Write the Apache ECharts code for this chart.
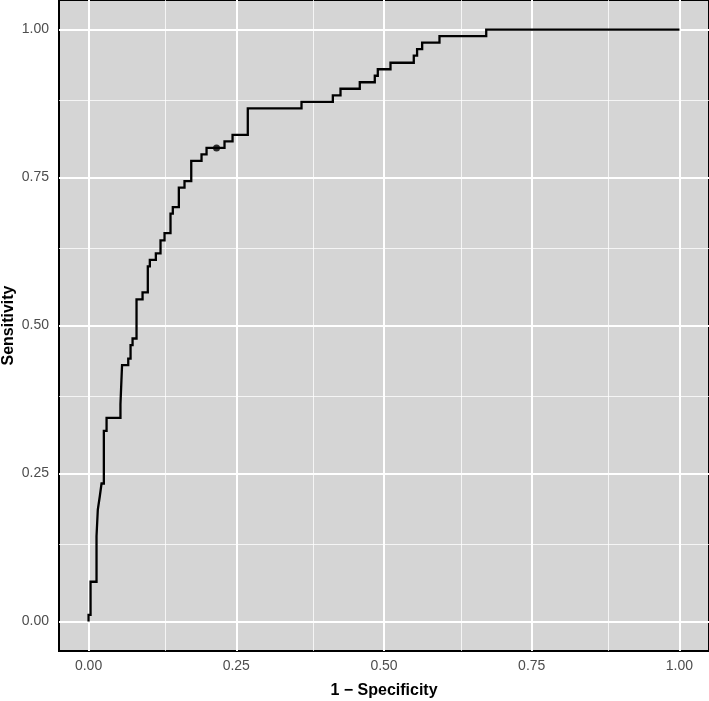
<!DOCTYPE html>
<html><head><meta charset="utf-8">
<script src="https://cdn.jsdelivr.net/npm/echarts@6/dist/echarts.min.js"></script>
<style>html,body{margin:0;padding:0;background:#fff}#c{width:709px;height:701px}</style>
</head><body><div id="c"></div>
<script>
// ROC curve vertices (1 - specificity, sensitivity); each step runs across then up
const fpr = [0, 0, 0.0034, 0.0135, 0.0157, 0.019, 0.022, 0.0259, 0.0305, 0.054,
  0.0567, 0.0672, 0.0711, 0.0745, 0.0812, 0.0914, 0.1003, 0.1037, 0.1139, 0.1218,
  0.1286, 0.1387, 0.1426, 0.1528, 0.1624, 0.1738, 0.1912, 0.1997, 0.2301, 0.2437,
  0.2695, 0.3604, 0.4134, 0.4264, 0.459, 0.4844, 0.4895, 0.511, 0.5504, 0.556,
  0.5646, 0.5939, 0.673, 1.0];
const tpr = [0, 0.011, 0.067, 0.144, 0.189, 0.211, 0.233, 0.322, 0.344, 0.367,
  0.433, 0.444, 0.467, 0.478, 0.544, 0.556, 0.6, 0.611, 0.622, 0.644,
  0.656, 0.689, 0.7, 0.733, 0.744, 0.778, 0.789, 0.8, 0.811, 0.822,
  0.867, 0.878, 0.889, 0.9, 0.911, 0.922, 0.933, 0.944, 0.956, 0.967,
  0.978, 0.989, 1.0, 1.0];
// highlighted threshold point
const bestFpr = [0.2166];
const bestTpr = [0.8];
// axis ticks
const majorTicks = [0, 0.25, 0.5, 0.75, 1.0];
const minorTicks = [0.125, 0.375, 0.625, 0.875];
const xTitle = '1 \u2212 Specificity';
const yTitle = 'Sensitivity';

// build staircase vertices: horizontal to next x, then vertical to next y
const stairs = [];
for (let i = 0; i < fpr.length; i++) {
  if (i > 0) stairs.push([fpr[i], tpr[i - 1]]);
  stairs.push([fpr[i], tpr[i]]);
}

const chart = echarts.init(document.getElementById('c'), null, {renderer: 'canvas'});
const font = '"Liberation Sans", Arial, sans-serif';
const lbl = {color: '#4d4d4d', fontSize: 14, fontFamily: font, formatter: v => Number(v).toFixed(2)};
function gridLines(dim) {
  const d = [];
  minorTicks.forEach(v => d.push({[dim]: v, lineStyle: {color: '#ffffff', width: 1, type: 'solid', opacity: 0.75}}));
  majorTicks.forEach(v => d.push({[dim]: v, lineStyle: {color: '#ffffff', width: 2, type: 'solid'}}));
  return d;
}
chart.setOption({
  animation: false,
  backgroundColor: '#ffffff',
  grid: {left: 59, top: 0, width: 650, height: 651, show: true, containLabel: false, outerBoundsMode: 'none',
         backgroundColor: '#d5d5d5', borderColor: '#000000', borderWidth: 2},
  xAxis: {type: 'value', min: -0.05, max: 1.05,
    axisLine: {show: false},
    axisTick: {show: true, length: 4, customValues: majorTicks, lineStyle: {color: '#333333', width: 1.5}},
    axisLabel: Object.assign({margin: 8, customValues: majorTicks}, lbl),
    splitLine: {show: false},
    name: xTitle, nameLocation: 'middle', nameGap: 32, nameMoveOverlap: false,
    nameTextStyle: {fontWeight: 'bold', fontSize: 16, color: '#000', fontFamily: font}},
  yAxis: {type: 'value', min: -0.05, max: 1.05,
    axisLine: {show: false},
    axisTick: {show: true, length: 4, customValues: majorTicks, lineStyle: {color: '#333333', width: 1.5}},
    axisLabel: Object.assign({margin: 10, customValues: majorTicks}, lbl),
    splitLine: {show: false},
    name: yTitle, nameLocation: 'middle', nameGap: 42, nameMoveOverlap: false,
    nameTextStyle: {fontWeight: 'bold', fontSize: 16, color: '#000', fontFamily: font}},
  series: [
    {type: 'line', data: [], z: 1, silent: true,
     markLine: {silent: true, z: 1, symbol: 'none', label: {show: false}, animation: false,
       data: gridLines('xAxis').concat(gridLines('yAxis'))}},
    {type: 'line', z: 10, showSymbol: false, symbol: 'none', smooth: false,
     lineStyle: {color: '#000000', width: 2.3, join: 'miter'},
     data: stairs},
    {type: 'scatter', z: 11, symbol: 'circle', symbolSize: 7,
     itemStyle: {color: '#000000'},
     data: bestFpr.map((x, i) => [x, bestTpr[i]])}
  ]
});
</script></body></html>
